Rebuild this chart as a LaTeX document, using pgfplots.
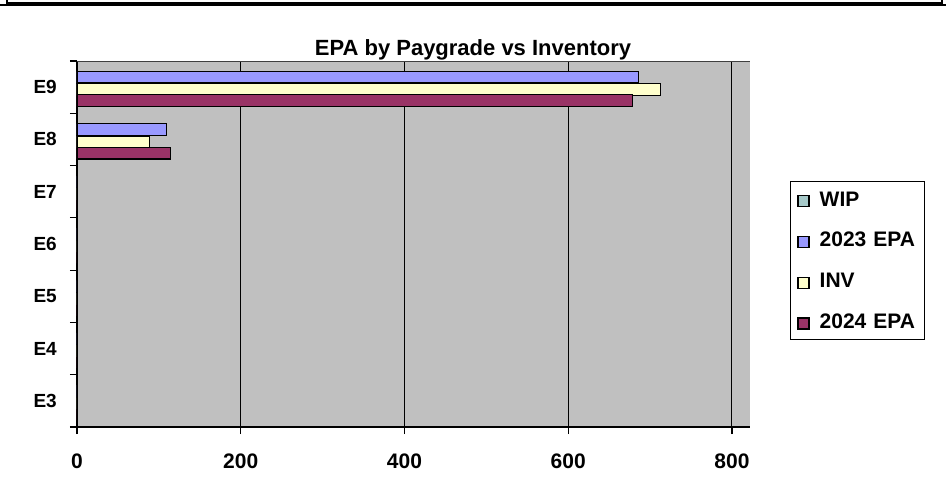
\documentclass[border=0pt]{standalone}
\usepackage{pgfplots}
\pgfplotsset{compat=1.18}
\usepackage{fontspec}
\setmainfont{Liberation Sans}
\definecolor{plotgray}{HTML}{C0C0C0}
\definecolor{epaA}{HTML}{9999FF}
\definecolor{inv}{HTML}{FFFFCC}
\definecolor{epaB}{HTML}{993366}
\definecolor{wip}{HTML}{A6C9C9}
\begin{document}
\begin{tikzpicture}[x=1pt,y=1pt]
\useasboundingbox (0,0) rectangle (946,499);
\draw[line width=1.5pt] (0,494) -- (946,494);
\draw[line width=1.5pt] (7,499) -- (7,496) -- (942,496) -- (942,499);
\node[anchor=base, font=\fontsize{22}{26}\selectfont\bfseries] at (473,443) {EPA by Paygrade vs Inventory};
\begin{axis}[
  at={(77pt,72pt)}, anchor=south west, scale only axis,
  width=673pt, height=366pt,
  xmin=0, xmax=822, ymin=-0.5, ymax=6.5,
  xbar,
  legend image code/.code={\draw[#1] (0pt,-8pt) rectangle (11pt,3pt);},
  axis background/.style={fill=plotgray},
  axis lines*=left,
  axis line style={line width=1.6pt, black},
  xtick={0,200,...,800},
  xmajorgrids, grid style={black, line width=1pt},
  ytick={-0.5,0.5,...,6.5},
  yticklabels={,,,,,,,},
  extra y ticks={0,1,2,3,4,5,6},
  extra y tick labels={E3,E4,E5,E6,E7,E8,E9},
  extra y tick style={major tick length=0pt, yticklabel style={font=\fontsize{19}{22}\selectfont\bfseries, inner sep=0pt, xshift=-20pt}},
  tick align=outside,
  major tick length=7pt,
  tick style={black, line width=1.2pt},
  /pgf/number format/assume math mode=true,
  xticklabel style={font=\fontsize{21}{25}\selectfont\bfseries, inner sep=0pt, text height=15pt, text depth=0pt, yshift=-19pt},
  legend style={at={(1.0594,0.672)}, anchor=north west, draw=black, line width=1pt, fill=white,
    font=\fontsize{21}{25}\selectfont\bfseries, row sep=24.7pt, column sep=10pt,
    inner xsep=7pt, inner ysep=9.5pt,
    nodes={inner sep=0pt, text height=15pt, text depth=0pt},
    /tikz/every odd column/.append style={xshift=0pt},
    /tikz/every even column/.append style={text width=98pt}},
  legend cell align=left,
]
\draw[line width=1.5pt, black!75] (rel axis cs:0,1) -- (rel axis cs:1,1);
\addlegendimage{fill=wip, draw=black, line width=1.2pt}
\addlegendentry{WIP}
\addplot[bar width=0.225, bar shift=0.19, fill=epaA, draw=black, line width=1.2pt]
  coordinates {(0,0) (0,1) (0,2) (0,3) (0,4) (109,5) (686,6)};
\addlegendentry{2023 EPA}
\addplot[bar width=0.225, bar shift=-0.045, fill=inv, draw=black, line width=1.2pt]
  coordinates {(0,0) (0,1) (0,2) (0,3) (0,4) (89,5) (713,6)};
\addlegendentry{INV}
\addplot[bar width=0.225, bar shift=-0.26, fill=epaB, draw=black, line width=1.2pt]
  coordinates {(0,0) (0,1) (0,2) (0,3) (0,4) (114,5) (678,6)};
\addlegendentry{2024 EPA}
\end{axis}
\end{tikzpicture}
\end{document}
